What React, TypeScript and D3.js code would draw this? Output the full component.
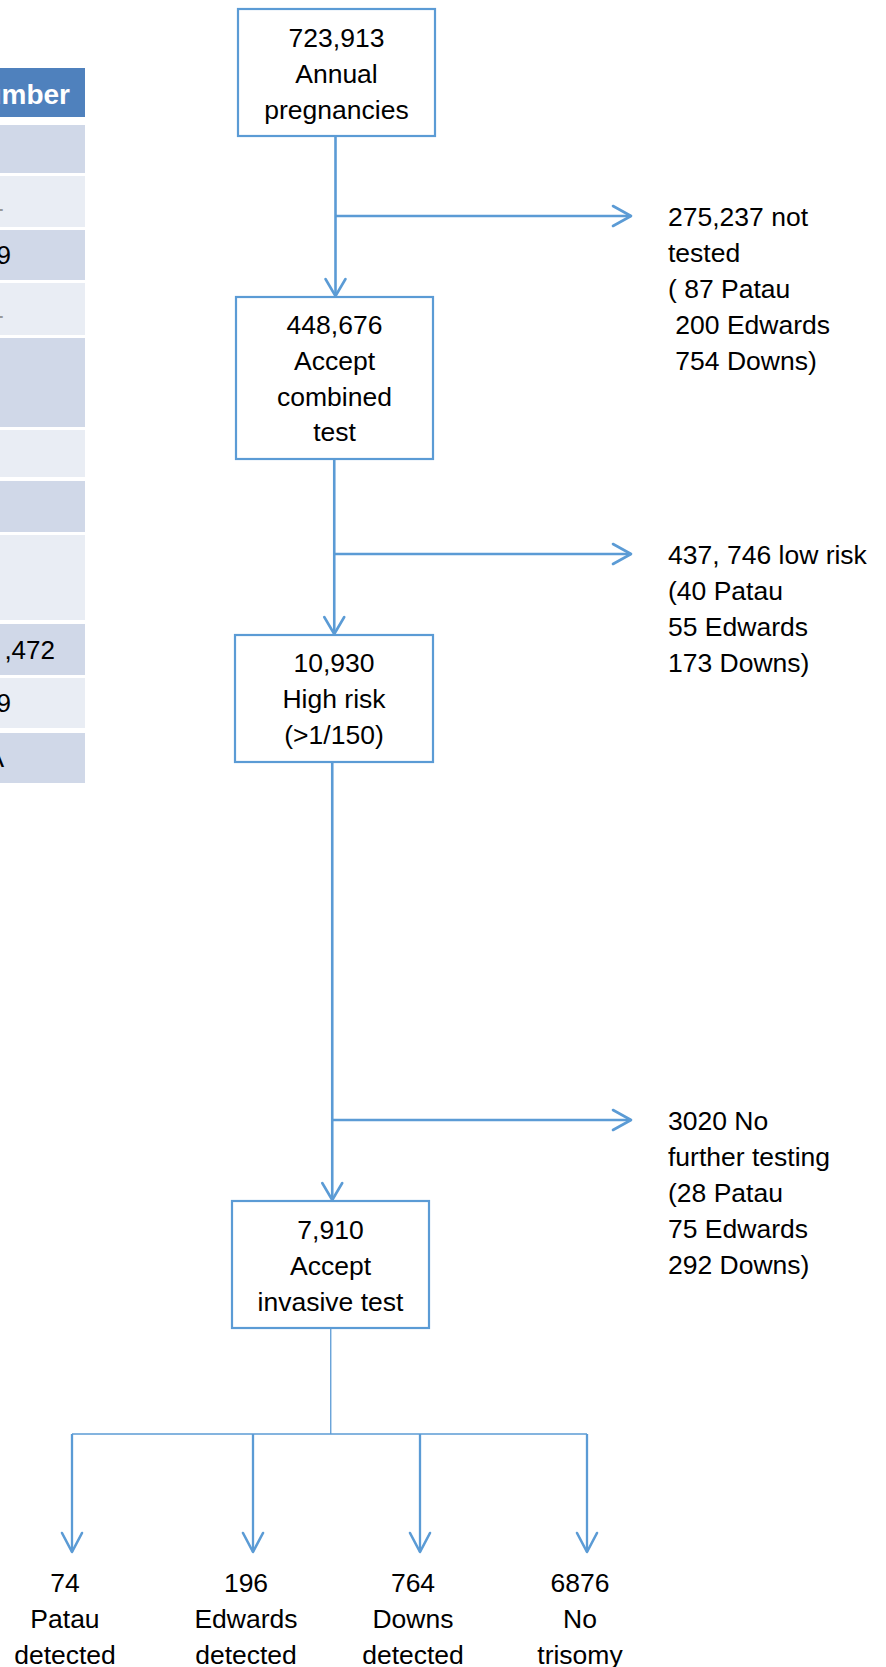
import React from "react";
import * as d3 from "d3";

// ---------- data ----------
const stageValues = ["723,913", "448,676", "10,930", "7,910"];
const stageLabels = [
  ["Annual", "pregnancies"],
  ["Accept", "combined", "test"],
  ["High risk", "(>1/150)"],
  ["Accept", "invasive test"],
];
const exitNotes = [
  ["275,237 not", "tested", "( 87 Patau", " 200 Edwards", " 754 Downs)"],
  ["437, 746 low risk", "(40 Patau", "55 Edwards", "173 Downs)"],
  ["3020 No", "further testing", "(28 Patau", "75 Edwards", "292 Downs)"],
];
const outcomeValues = ["74", "196", "764", "6876"];
const outcomeLabels = [
  ["Patau", "detected"],
  ["Edwards", "detected"],
  ["Downs", "detected"],
  ["No", "trisomy"],
];
const tableHeader = "Number";
const tableCells = ["", "1", "9", "1", "", "", "", "", ",472", "9", "A"];

// ---------- layout ----------
const W = 886;
const H = 1667;
const BLUE = "#5B9BD5";
const FONT = "'Liberation Sans', Arial, sans-serif";
const FS = 26.5;
const LH = 35.8;

const boxX0 = [238, 236, 235, 232];
const boxX1 = [435, 433, 433, 429];
const boxY0 = [9, 297, 635, 1201];
const boxY1 = [136, 459, 762, 1328];
const boxFirstBaseline = [47, 334, 672, 1239];

const exitY = [216, 554, 1120];
const exitTipX = 631;
const exitTextX = 668;

const branchY = 1434;
const outcomeTipY = 1552;
const outcomeArrowX = d3.scaleOrdinal<string, number>().domain(outcomeValues).range([72, 253, 420, 587]);
const outcomeBaseline = 1592;

const tableRight = 85;
const headerY = [68, 117];
const rowY0 = [125, 176, 230, 283, 338, 430, 481, 535, 624, 678, 733];
const rowY1 = [173, 227, 280, 335, 427, 477, 532, 620, 675, 728, 783];

function arrowHead(tx: number, ty: number, dir: "down" | "right", len: number, half: number) {
  const p = d3.path();
  if (dir === "down") {
    p.moveTo(tx - half, ty - len);
    p.lineTo(tx, ty);
    p.lineTo(tx + half, ty - len);
  } else {
    p.moveTo(tx - len, ty - half);
    p.lineTo(tx, ty);
    p.lineTo(tx - len, ty + half);
  }
  return p.toString();
}

export default function App() {
  const centers = boxX0.map((x, i) => (x + boxX1[i]) / 2);
  const connX = [0, 1, 2].map((i) => (centers[i] + centers[i + 1]) / 2);

  return (
    <div style={{ position: "absolute", left: 0, top: 0, width: W, height: H, background: "#fff" }}>
      <svg width={W} height={H} style={{ display: "block" }} fontFamily={FONT}>
        <rect width={W} height={H} fill="#fff" />

        {/* partial table at left */}
        <g>
          <rect x={-10} y={headerY[0]} width={tableRight + 10} height={headerY[1] - headerY[0]} fill="#4F81BD" />
          <text x={70} y={104} textAnchor="end" fill="#fff" fontWeight="bold" fontSize={28}>
            {tableHeader}
          </text>
          {rowY0.map((y0, i) => (
            <g key={"row" + i}>
              <rect x={-10} y={y0} width={tableRight + 10} height={rowY1[i] - y0} fill={i % 2 === 0 ? "#D0D8E8" : "#E9EDF4"} />
              {tableCells[i] ? (
                <text
                  x={tableCells[i].length > 1 ? 55 : tableCells[i] === "9" ? 11 : 4}
                  y={(y0 + rowY1[i]) / 2 + 9}
                  textAnchor="end"
                  fontSize={26}
                  fill={tableCells[i] === "1" ? "#999" : "#000"}
                >
                  {tableCells[i]}
                </text>
              ) : null}
            </g>
          ))}
        </g>

        {/* vertical connectors between stages */}
        {connX.map((x, i) => (
          <g key={"conn" + i}>
            <line x1={x} y1={boxY1[i]} x2={x} y2={boxY0[i + 1] - 1} stroke={BLUE} strokeWidth={2.6} />
            <path d={arrowHead(x, boxY0[i + 1] - 1, "down", 17, 10)} fill="none" stroke={BLUE} strokeWidth={2.6} strokeLinecap="round" strokeLinejoin="round" />
          </g>
        ))}

        {/* exit arrows */}
        {exitY.map((y, i) => (
          <g key={"exit" + i}>
            <line x1={connX[i]} y1={y} x2={exitTipX} y2={y} stroke={BLUE} strokeWidth={2.6} />
            <path d={arrowHead(exitTipX, y, "right", 18, 10)} fill="none" stroke={BLUE} strokeWidth={2.6} strokeLinecap="round" strokeLinejoin="round" />
            {exitNotes[i].map((t, j) => (
              <text key={j} x={exitTextX} y={y + 9.5 + j * 36} fontSize={FS} fill="#000" style={{ whiteSpace: "pre" }}>
                {t}
              </text>
            ))}
          </g>
        ))}

        {/* stage boxes */}
        {stageValues.map((v, i) => {
          const lines = [v, ...stageLabels[i]];
          return (
            <g key={"box" + i}>
              <rect x={boxX0[i]} y={boxY0[i]} width={boxX1[i] - boxX0[i]} height={boxY1[i] - boxY0[i]} fill="#fff" stroke={BLUE} strokeWidth={2.2} />
              {lines.map((t, j) => (
                <text key={j} x={centers[i]} y={boxFirstBaseline[i] + j * LH} textAnchor="middle" fontSize={FS} fill="#000">
                  {t}
                </text>
              ))}
            </g>
          );
        })}

        {/* bottom branching */}
        <line x1={connX[2] - 1.5} y1={boxY1[3]} x2={connX[2] - 1.5} y2={branchY} stroke={BLUE} strokeWidth={1.3} />
        <line
          x1={outcomeArrowX(outcomeValues[0])}
          y1={branchY}
          x2={outcomeArrowX(outcomeValues[3])}
          y2={branchY}
          stroke={BLUE}
          strokeWidth={1.7}
        />
        {outcomeValues.map((v, i) => {
          const x = outcomeArrowX(v);
          const lines = [v, ...outcomeLabels[i]];
          return (
            <g key={"out" + i}>
              <line x1={x} y1={branchY} x2={x} y2={outcomeTipY} stroke={BLUE} strokeWidth={2.3} />
              <path d={arrowHead(x, outcomeTipY, "down", 19, 10)} fill="none" stroke={BLUE} strokeWidth={2.6} strokeLinecap="round" strokeLinejoin="round" />
              {lines.map((t, j) => (
                <text key={j} x={x - 7} y={outcomeBaseline + j * LH} textAnchor="middle" fontSize={FS} fill="#000">
                  {t}
                </text>
              ))}
            </g>
          );
        })}
      </svg>
    </div>
  );
}
